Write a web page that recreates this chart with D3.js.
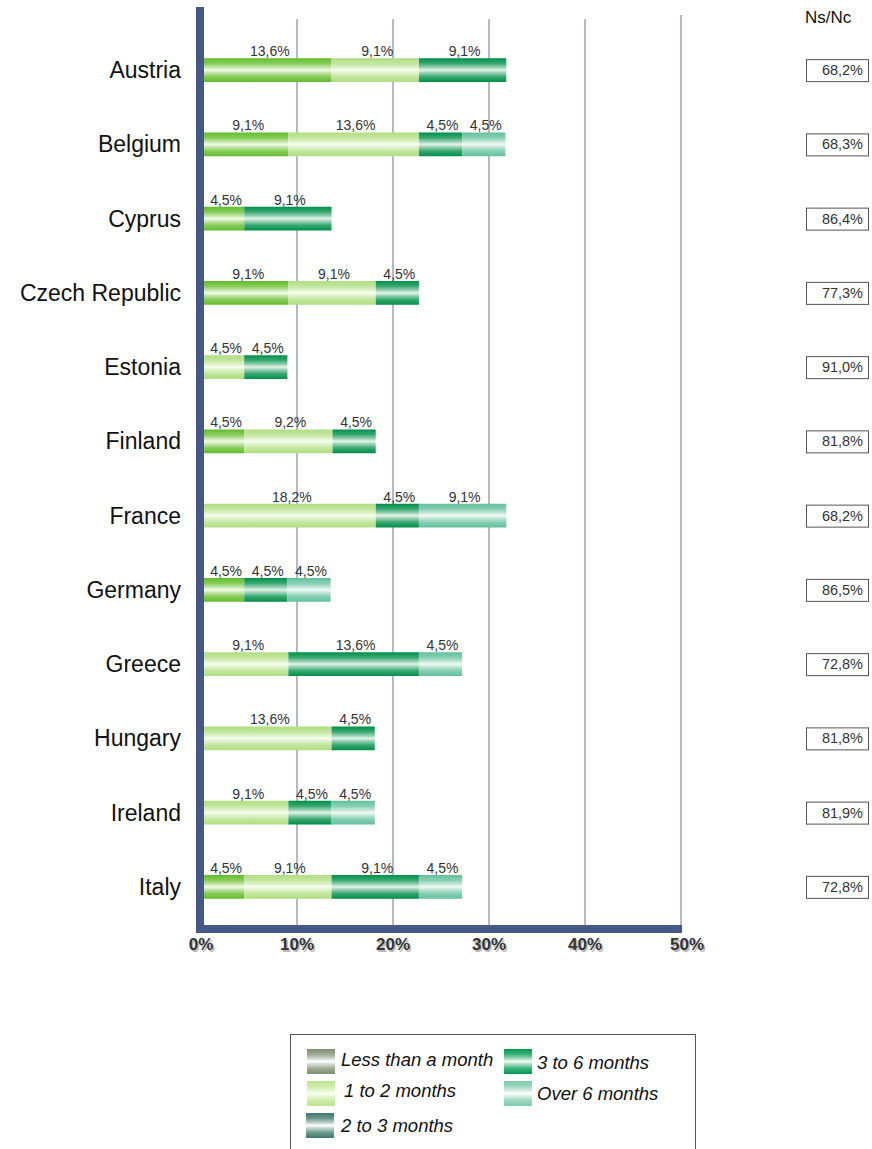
<!DOCTYPE html>
<html>
<head>
<meta charset="utf-8">
<script src="https://cdn.jsdelivr.net/npm/d3@7"></script>
<style>
  body { margin: 0; background: #fff; }
  svg { display: block; font-family: "Liberation Sans", Arial, sans-serif; }
</style>
</head>
<body>
<svg></svg>
<script>
document.addEventListener('DOMContentLoaded', function() {
  const width = 872;
  const height = 1149;

  const countries = ['Austria', 'Belgium', 'Cyprus', 'Czech Republic', 'Estonia', 'Finland',
    'France', 'Germany', 'Greece', 'Hungary', 'Ireland', 'Italy'];

  const seriesNames = ['Less than a month', '1 to 2 months', '2 to 3 months', '3 to 6 months', 'Over 6 months'];

  // percentages per country, in the order of countries
  const lessThanMonth = [13.6, 9.1, 4.5, 9.1, 0, 4.5, 0, 4.5, 0, 0, 0, 4.5];
  const oneToTwo      = [9.1, 13.6, 0, 9.1, 4.5, 9.2, 18.2, 0, 9.1, 13.6, 9.1, 9.1];
  const twoToThree    = [0, 0, 0, 0, 0, 0, 0, 0, 0, 0, 0, 0];
  const threeToSix    = [9.1, 4.5, 9.1, 4.5, 4.5, 4.5, 4.5, 4.5, 13.6, 4.5, 4.5, 9.1];
  const overSix       = [0, 4.5, 0, 0, 0, 0, 9.1, 4.5, 4.5, 0, 4.5, 4.5];

  const nsNc = ['68,2%', '68,3%', '86,4%', '77,3%', '91,0%', '81,8%', '68,2%', '86,5%', '72,8%', '81,8%', '81,9%', '72,8%'];

  const xTicks = [0, 10, 20, 30, 40, 50];

  const svg = d3.select('svg')
    .attr('width', width)
    .attr('height', height);

  const data = countries.map((c, i) => ({
    country: c,
    values: [lessThanMonth[i], oneToTwo[i], twoToThree[i], threeToSix[i], overSix[i]]
  }));

  const x = d3.scaleLinear().domain([0, 50]).range([201, 681]);
  const y = d3.scaleBand().domain(countries).range([33, 924]).paddingInner(0.68).paddingOuter(0.34);

  // banded gradients: colour at edges, pale in the middle
  const barColors = [
    ['#62bc2a', '#f4fbea'],
    ['#b0de82', '#f8fdf0'],
    ['#3f7a6a', '#f2f7f5'],
    ['#008f48', '#e4f3ea'],
    ['#62c09d', '#f2faf6']
  ];
  const legendColors = [
    ['#7e8f72', '#ffffff'],
    ['#bde68e', '#fbfff2'],
    ['#3e7868', '#ffffff'],
    ['#009a50', '#f4fbf6'],
    ['#7ccbac', '#ffffff']
  ];

  const defs = svg.append('defs');
  function addGradient(id, c) {
    const g = defs.append('linearGradient')
      .attr('id', id)
      .attr('x1', 0).attr('y1', 0).attr('x2', 0).attr('y2', 1);
    const steps = [[0, 0], [0.22, 0.25], [0.4, 0.7], [0.5, 1], [0.6, 0.7], [0.78, 0.25], [1, 0]];
    steps.forEach(s => {
      g.append('stop')
        .attr('offset', s[0])
        .attr('stop-color', d3.interpolateRgb(c[0], c[1])(s[1]));
    });
  }
  barColors.forEach((c, i) => addGradient('bar' + i, c));
  legendColors.forEach((c, i) => addGradient('leg' + i, c));

  // gridlines
  svg.append('g')
    .selectAll('line')
    .data(xTicks.slice(1))
    .enter().append('line')
    .attr('x1', d => x(d))
    .attr('x2', d => x(d))
    .attr('y1', d => d === 50 ? 15 : 19)
    .attr('y2', 928)
    .attr('stroke', '#8a93ae')
    .attr('stroke-width', 1.3);

  // stacked bars
  const rows = svg.append('g')
    .selectAll('g')
    .data(data)
    .enter().append('g');

  rows.each(function(d) {
    const row = d3.select(this);
    let acc = 0;
    const segs = [];
    d.values.forEach((v, k) => {
      if (v > 0) segs.push({ k: k, v: v, x0: acc, x1: acc + v });
      acc += v;
    });
    const y0 = y(d.country);
    const bh = y.bandwidth();

    row.selectAll('rect')
      .data(segs)
      .enter().append('rect')
      .attr('x', s => Math.max(x(s.x0), 204))
      .attr('width', s => x(s.x1) - Math.max(x(s.x0), 204))
      .attr('y', y0)
      .attr('height', bh)
      .attr('fill', s => 'url(#bar' + s.k + ')');

    row.selectAll('text')
      .data(segs)
      .enter().append('text')
      .attr('x', s => (Math.max(x(s.x0), 204) + x(s.x1)) / 2 + 2)
      .attr('y', y0 - 2)
      .attr('text-anchor', 'middle')
      .attr('font-size', 14)
      .attr('fill', '#333')
      .text(s => d3.format('.1f')(s.v).replace('.', ',') + '%');
  });

  // country labels
  svg.append('g')
    .selectAll('text')
    .data(countries)
    .enter().append('text')
    .attr('x', 181)
    .attr('y', d => y(d) + y.bandwidth() / 2)
    .attr('dy', '.35em')
    .attr('text-anchor', 'end')
    .attr('font-size', 23)
    .attr('fill', '#111')
    .text(d => d);

  // axes frame
  svg.append('rect')
    .attr('x', 196).attr('y', 7)
    .attr('width', 8).attr('height', 926)
    .attr('fill', '#455886');
  svg.append('rect')
    .attr('x', 196).attr('y', 925)
    .attr('width', 486).attr('height', 8)
    .attr('fill', '#455886');

  // tick labels with a light shadow
  const tl = svg.append('g')
    .selectAll('g')
    .data(xTicks)
    .enter().append('g');
  tl.append('text')
    .attr('x', d => x(d) + (d === 50 ? 6 : 0) + 1.5)
    .attr('y', 951.5)
    .attr('text-anchor', 'middle')
    .attr('font-size', 17)
    .attr('font-weight', 'bold')
    .attr('fill', '#bbb')
    .text(d => d + '%');
  tl.append('text')
    .attr('x', d => x(d) + (d === 50 ? 6 : 0))
    .attr('y', 950)
    .attr('text-anchor', 'middle')
    .attr('font-size', 17)
    .attr('font-weight', 'bold')
    .attr('fill', '#333')
    .text(d => d + '%');

  // Ns/Nc column
  svg.append('text')
    .attr('x', 805)
    .attr('y', 23)
    .attr('font-size', 17)
    .attr('fill', '#111')
    .text('Ns/Nc');

  const boxes = svg.append('g')
    .selectAll('g')
    .data(countries)
    .enter().append('g')
    .attr('transform', (d, i) => 'translate(806,' + (y(d) + y.bandwidth() / 2 - 11) + ')');
  boxes.append('rect')
    .attr('x', 0.5).attr('y', 0.5)
    .attr('width', 62).attr('height', 22)
    .attr('fill', '#fff')
    .attr('stroke', '#555');
  boxes.append('text')
    .attr('x', 57)
    .attr('y', 16)
    .attr('text-anchor', 'end')
    .attr('font-size', 14.5)
    .attr('fill', '#333')
    .text((d, i) => nsNc[i]);

  // legend
  const legend = svg.append('g');
  legend.append('rect')
    .attr('x', 290.5).attr('y', 1034.5)
    .attr('width', 405).attr('height', 130)
    .attr('fill', '#fff')
    .attr('stroke', '#555');

  const legendPos = [
    { x: 307, y: 1049, tx: 341, ty: 1060 },
    { x: 307, y: 1081, tx: 344, ty: 1091 },
    { x: 306, y: 1113, tx: 341, ty: 1126 },
    { x: 504, y: 1049, tx: 537, ty: 1063 },
    { x: 504, y: 1081, tx: 537, ty: 1094 }
  ];
  const items = legend.selectAll('g')
    .data(seriesNames)
    .enter().append('g');
  items.append('rect')
    .attr('x', (d, i) => legendPos[i].x)
    .attr('y', (d, i) => legendPos[i].y)
    .attr('width', 28)
    .attr('height', 25)
    .attr('fill', (d, i) => 'url(#leg' + i + ')');
  items.append('text')
    .attr('x', (d, i) => legendPos[i].tx)
    .attr('y', (d, i) => legendPos[i].ty)
    .attr('dy', '.35em')
    .attr('font-size', 18.5)
    .attr('font-style', 'italic')
    .attr('fill', '#111')
    .text(d => d);
});
</script>
</body>
</html>
